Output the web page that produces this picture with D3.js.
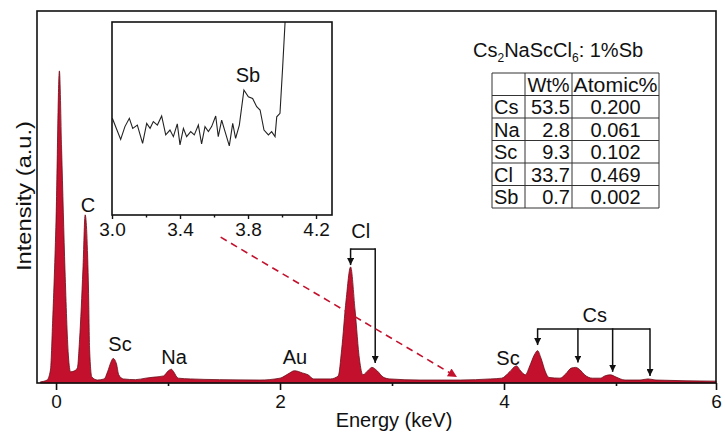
<!DOCTYPE html>
<html>
<head>
<meta charset="utf-8">
<script src="https://cdnjs.cloudflare.com/ajax/libs/d3/7.8.5/d3.min.js"></script>
<style>
  body { margin: 0; background: #fff; }
  svg text { font-family: Arial, "Liberation Sans", Helvetica, sans-serif; fill: #111; }
</style>
</head>
<body>
<div id="chart"></div>
<script>
// EDS spectrum (energy in keV, intensity in a.u.)
var energy = [-0.14, -0.08, -0.05, -0.03, 0.00, 0.03, 0.05, 0.08, 0.11, 0.13,
    0.16, 0.19, 0.21, 0.24, 0.26, 0.29, 0.30, 0.32, 0.37, 0.43,
    0.46, 0.49, 0.51, 0.54, 0.56, 0.60, 0.71, 0.80, 0.88, 0.96,
    1.00, 1.03, 1.05, 1.09, 1.20, 1.46, 1.82, 2.00, 2.07, 2.13,
    2.20, 2.25, 2.30, 2.45, 2.52, 2.55, 2.59, 2.63, 2.67, 2.71,
    2.74, 2.79, 2.82, 2.87, 2.92, 2.98, 3.25, 3.61, 3.88, 3.98,
    4.05, 4.11, 4.15, 4.19, 4.23, 4.27, 4.30, 4.33, 4.37, 4.40,
    4.50, 4.55, 4.60, 4.64, 4.68, 4.72, 4.79, 4.86, 4.90, 4.95,
    5.00, 5.09, 5.24, 5.32, 5.40, 6.00];
var intensity = [0.3, 0.8, 3.5, 16.9, 43.8, 83.9, 62.6, 30.4, 7.5, 3.0,
    3.2, 4.0, 11.6, 30.4, 45.2, 25.0, 8.9, 1.6, 0.8, 1.1,
    3.0, 5.6, 6.6, 5.1, 2.2, 1.1, 0.9, 1.3, 1.6, 1.9,
    3.2, 3.7, 3.0, 1.3, 1.1, 0.9, 0.8, 1.3, 2.4, 3.3,
    2.7, 2.2, 1.1, 1.1, 1.9, 8.9, 22.3, 31.2, 19.6, 6.2,
    2.2, 3.5, 4.2, 3.2, 1.6, 1.1, 0.8, 0.8, 1.1, 1.3,
    3.0, 4.6, 3.2, 2.2, 4.6, 7.5, 8.7, 6.7, 3.0, 1.5,
    1.3, 2.4, 4.0, 4.2, 3.5, 2.2, 1.3, 1.3, 1.9, 2.2,
    1.6, 0.8, 0.8, 1.1, 0.8, 0.5];

// inset: zoom on 3.0 - 4.3 keV
var insetEnergy = [3.002, 3.051, 3.076, 3.102, 3.122, 3.149, 3.180, 3.204, 3.224, 3.243,
    3.267, 3.292, 3.316, 3.341, 3.361, 3.384, 3.400, 3.420, 3.439, 3.463,
    3.484, 3.508, 3.527, 3.547, 3.567, 3.586, 3.610, 3.625, 3.645, 3.665,
    3.690, 3.710, 3.727, 3.749, 3.776, 3.802, 3.827, 3.851, 3.871, 3.894,
    3.920, 3.939, 3.959, 3.969, 3.988, 4.004, 4.018, 4.030];
var insetIntensity = [50.1, 39.2, 45.8, 50.1, 44.9, 46.6, 37.1, 47.5, 44.9, 48.4,
    46.6, 51.3, 41.5, 44.0, 40.6, 47.2, 36.3, 44.9, 40.6, 43.2,
    41.5, 46.6, 36.8, 45.8, 43.2, 45.8, 51.3, 40.6, 49.2, 43.2,
    35.8, 47.5, 39.7, 46.6, 64.8, 61.3, 60.4, 56.1, 54.4, 44.0,
    41.5, 43.2, 40.6, 50.9, 52.7, 76.9, 100, 115];

// peak labels (energy of label centre, intensity of baseline)
var labelNames = ["C", "Sc", "Na", "Au", "Sc"];
var labelEnergy = [0.286, 0.571, 1.054, 2.134, 4.036];
var labelIntensity = [46.0, 8.6, 5.1, 5.1, 4.8];

// bracketed line families
var clLines = [2.63, 2.85];
var clTips = [31.7, 5.4];
var csLines = [4.30, 4.66, 4.97, 5.34];
var csTips = [10.2, 5.5, 3.0, 1.9];

// composition table
var elements = ["Cs", "Na", "Sc", "Cl", "Sb"];
var wtPct = ["53.5", "2.8", "9.3", "33.7", "0.7"];
var atomicPct = ["0.200", "0.061", "0.102", "0.469", "0.002"];
var tableHeader = ["", "Wt%", "Atomic%"];

var width = 725, height = 436;
var red = "#c3112d";

var svg = d3.select("#chart").append("svg")
    .attr("width", width)
    .attr("height", height);

var defs = svg.append("defs");
defs.append("marker").attr("id", "arrBlack")
    .attr("viewBox", "0 0 10 10").attr("refX", 10).attr("refY", 5)
    .attr("markerWidth", 7).attr("markerHeight", 7)
    .attr("markerUnits", "userSpaceOnUse").attr("orient", "auto")
    .append("path").attr("d", "M0,0L10,5L0,10Z").attr("fill", "#111");
defs.append("marker").attr("id", "arrRed")
    .attr("viewBox", "0 0 10 10").attr("refX", 10).attr("refY", 5)
    .attr("markerWidth", 11).attr("markerHeight", 9)
    .attr("markerUnits", "userSpaceOnUse").attr("orient", "auto")
    .append("path").attr("d", "M0,0L10,5L0,10Z").attr("fill", red);
defs.append("clipPath").attr("id", "insetClip")
    .append("rect").attr("x", 112).attr("y", 22).attr("width", 220).attr("height", 193);

// main scales
var x = d3.scaleLinear().domain([-0.17, 5, 6]).range([37, 616, 716]);
var y = d3.scaleLinear().domain([0, 100]).range([383, 11]);

var spectrum = energy.map(function(e, i) { return [e, intensity[i]]; });

var area = d3.area()
    .x(function(d) { return x(d[0]); })
    .y0(y(0))
    .y1(function(d) { return y(d[1]); })
    .curve(d3.curveMonotoneX);

svg.append("path")
    .datum(spectrum)
    .attr("d", area)
    .attr("fill", red)
    .attr("stroke", "#6a0b16")
    .attr("stroke-width", 0.8);

// frame
svg.append("rect")
    .attr("x", 37).attr("y", 11)
    .attr("width", 679).attr("height", 372)
    .attr("fill", "none").attr("stroke", "#111").attr("stroke-width", 1.6);

// x axis
var xAxis = d3.axisBottom(x).tickValues([0, 2, 4, 6]).tickSize(7).tickPadding(5).tickFormat(d3.format("d"));
var xMinor = d3.axisBottom(x).tickValues([1, 3, 5]).tickSize(3).tickFormat("");
var gx = svg.append("g").attr("transform", "translate(0," + y(0) + ")").call(xAxis);
var gxm = svg.append("g").attr("transform", "translate(0," + y(0) + ")").call(xMinor);
[gx, gxm].forEach(function(g) {
    g.select(".domain").remove();
    g.selectAll("line").attr("stroke", "#111").attr("stroke-width", 1.6);
});
gx.selectAll("text").attr("font-size", 19).attr("fill", "#111");

svg.append("text")
    .attr("x", 394).attr("y", 427)
    .attr("text-anchor", "middle")
    .attr("font-size", 20)
    .text("Energy (keV)");

svg.append("text")
    .attr("transform", "translate(31,196) rotate(-90)")
    .attr("text-anchor", "middle")
    .attr("font-size", 20)
    .attr("textLength", 150)
    .attr("lengthAdjust", "spacingAndGlyphs")
    .text("Intensity (a.u.)");

// peak labels
labelNames.forEach(function(n, i) {
    svg.append("text")
        .attr("x", x(labelEnergy[i]))
        .attr("y", y(labelIntensity[i]))
        .attr("text-anchor", "middle")
        .attr("font-size", 20)
        .text(n);
});

// brackets with arrows
function bracket(lines, tips, top, name, nameE, nameI) {
    var g = svg.append("g");
    g.append("path")
        .attr("d", "M" + x(lines[0]) + "," + y(top) + "H" + x(lines[lines.length - 1]))
        .attr("stroke", "#111").attr("stroke-width", 1.5).attr("fill", "none");
    lines.forEach(function(e, i) {
        g.append("line")
            .attr("x1", x(e)).attr("x2", x(e))
            .attr("y1", y(top) - 0.75).attr("y2", y(tips[i]))
            .attr("stroke", "#111").attr("stroke-width", 1.5)
            .attr("marker-end", "url(#arrBlack)");
    });
    g.append("text")
        .attr("x", x(nameE)).attr("y", y(nameI))
        .attr("text-anchor", "middle")
        .attr("font-size", 20)
        .text(name);
}
bracket(clLines, clTips, 36.0, "Cl", 2.72, 39.0);
bracket(csLines, csTips, 14.5, "Cs", 4.81, 16.4);

// dashed red pointer from inset to the Sb region
svg.append("line")
    .attr("x1", x(1.47)).attr("y1", y(39.2))
    .attr("x2", x(3.58)).attr("y2", y(1.6))
    .attr("stroke", red).attr("stroke-width", 1.6)
    .attr("stroke-dasharray", "7,5")
    .attr("marker-end", "url(#arrRed)");

// inset
var ix = d3.scaleLinear().domain([3.0, 4.294]).range([112, 332]);
var iy = d3.scaleLinear().domain([0, 100]).range([215, 22]);

var inset = svg.append("g");
inset.append("rect")
    .attr("x", 112).attr("y", 22).attr("width", 220).attr("height", 193)
    .attr("fill", "#fff");

var insetLine = d3.line()
    .x(function(d) { return ix(d[0]); })
    .y(function(d) { return iy(d[1]); });

inset.append("path")
    .datum(insetEnergy.map(function(e, i) { return [e, insetIntensity[i]]; }))
    .attr("d", insetLine)
    .attr("clip-path", "url(#insetClip)")
    .attr("fill", "none")
    .attr("stroke", "#222")
    .attr("stroke-width", 1.1);

inset.append("rect")
    .attr("x", 112).attr("y", 22).attr("width", 220).attr("height", 193)
    .attr("fill", "none").attr("stroke", "#111").attr("stroke-width", 1.6);

var ixAxis = d3.axisBottom(ix).tickValues([3.0, 3.4, 3.8, 4.2]).tickSize(4).tickPadding(4).tickFormat(d3.format(".1f"));
var ixMinor = d3.axisBottom(ix).tickValues([3.2, 3.6, 4.0]).tickSize(2.5).tickFormat("");
var gix = inset.append("g").attr("transform", "translate(0,215)").call(ixAxis);
var gixm = inset.append("g").attr("transform", "translate(0,215)").call(ixMinor);
[gix, gixm].forEach(function(g) {
    g.select(".domain").remove();
    g.selectAll("line").attr("stroke", "#111").attr("stroke-width", 1.4);
});
gix.selectAll("text").attr("font-size", 19).attr("fill", "#111");

inset.append("text")
    .attr("x", ix(3.8)).attr("y", iy(69))
    .attr("text-anchor", "middle")
    .attr("font-size", 20)
    .text("Sb");

// composition title and table
var title = svg.append("text")
    .attr("x", 473).attr("y", 57)
    .attr("font-size", 20);
title.append("tspan").text("Cs");
title.append("tspan").attr("font-size", 12).attr("dy", 5).text("2");
title.append("tspan").attr("dy", -5).text("NaScCl");
title.append("tspan").attr("font-size", 12).attr("dy", 5).text("6");
title.append("tspan").attr("dy", -5).text(": 1%Sb");

var colX = [492, 525, 572, 659];
var rowTop = 73, rowH = 22.5;
var nRows = elements.length + 1;
var table = svg.append("g");

d3.range(nRows + 1).forEach(function(r) {
    table.append("line")
        .attr("x1", colX[0]).attr("x2", colX[3])
        .attr("y1", rowTop + r * rowH).attr("y2", rowTop + r * rowH)
        .attr("stroke", "#333").attr("stroke-width", 1);
});
colX.forEach(function(cx) {
    table.append("line")
        .attr("x1", cx).attr("x2", cx)
        .attr("y1", rowTop).attr("y2", rowTop + nRows * rowH)
        .attr("stroke", "#333").attr("stroke-width", 1);
});

function cellText(txt, row, col, anchor) {
    var tx = anchor === "start" ? colX[col] + 2
        : anchor === "end" ? colX[col + 1] - 2
        : (colX[col] + colX[col + 1]) / 2;
    table.append("text")
        .attr("x", tx)
        .attr("y", rowTop + (row + 1) * rowH - 4)
        .attr("text-anchor", anchor)
        .attr("font-size", 20)
        .text(txt);
}
cellText(tableHeader[1], 0, 1, "middle");
table.append("text")
    .attr("x", (colX[2] + colX[3]) / 2)
    .attr("y", rowTop + rowH - 4)
    .attr("text-anchor", "middle")
    .attr("font-size", 20)
    .attr("textLength", 84)
    .attr("lengthAdjust", "spacingAndGlyphs")
    .text(tableHeader[2]);
elements.forEach(function(el, i) {
    cellText(el, i + 1, 0, "start");
    cellText(wtPct[i], i + 1, 1, "end");
    cellText(atomicPct[i], i + 1, 2, "middle");
});
</script>
</body>
</html>
